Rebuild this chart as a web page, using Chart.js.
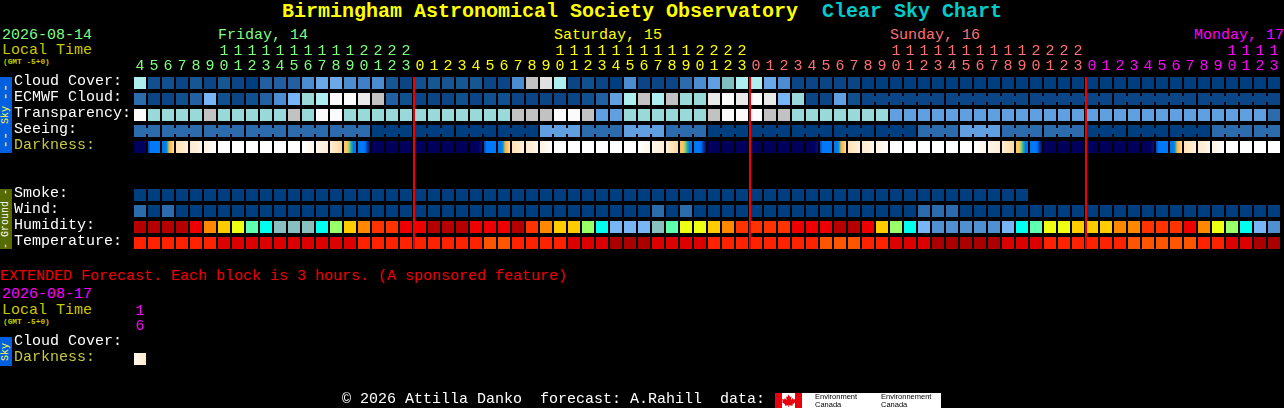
<!DOCTYPE html>
<html>
<head>
<meta charset="utf-8">
<script src="https://cdn.jsdelivr.net/npm/chart.js@4"></script>
<style>
html,body{margin:0;padding:0;background:#000;overflow:hidden}
#page{position:relative;width:1284px;height:408px;background:#000;font:15px/15px "Liberation Mono",monospace}
canvas{position:absolute;left:0}
.t{position:absolute;white-space:pre}
.title{font:bold 20px/20px "Liberation Mono",monospace;top:2px}
.gmt{font:bold 7.8px/8px "Liberation Mono",monospace;color:#c8c800;left:3px}
.side{position:absolute;left:0;width:12px}
.side span{position:absolute;left:6px;top:50%;transform:translate(-50%,-50%) rotate(-90deg);font:10px/10px "Liberation Mono",monospace;white-space:pre}
.side span.dash{font-size:14px;line-height:14px}
.logo{font:7.5px/7.5px "Liberation Sans",sans-serif;color:#000;white-space:pre}
</style>
</head>
<body>
<div id="page">
  <span class="t title" style="left:282px;color:#ffff00">Birmingham Astronomical Society Observatory</span>
  <span class="t title" style="left:822px;color:#00cccc">Clear Sky Chart</span>

  <span class="t" style="left:2px;top:28px;color:#80ff80">2026-08-14</span>
  <span class="t" style="left:218px;top:28px;color:#80ff80">Friday, 14</span>
  <span class="t" style="left:554px;top:28px;color:#ffff00">Saturday, 15</span>
  <span class="t" style="left:890px;top:28px;color:#ff7070">Sunday, 16</span>
  <span class="t" style="left:1194px;top:28px;color:#ff00ff">Monday, 17</span>
  <span class="t" style="left:2px;top:43px;color:#c8c800">Local Time</span>
  <span class="t gmt" style="top:58px">(GMT -5+0)</span>

  <div class="side" style="top:77px;height:76px;background:#0060e0">
    <span class="dash" style="top:15px;color:#ffff40">--</span>
    <span style="color:#ffff40">Sky</span>
    <span class="dash" style="top:63px;color:#ffff40">--</span>
  </div>
  <div class="side" style="top:189px;height:60px;background:#556b00"><span style="color:#fff">- Ground -</span></div>

  <canvas id="main" width="1284" height="260" style="top:0"></canvas>

  <span class="t" style="left:0;top:269px;color:#f00000">EXTENDED Forecast. Each block is 3 hours. (A sponsored feature)</span>
  <span class="t" style="left:2px;top:287px;color:#ff00ff">2026-08-17</span>
  <span class="t" style="left:2px;top:303px;color:#c8c800">Local Time</span>
  <span class="t gmt" style="top:318px">(GMT -5+0)</span>
  <div class="side" style="top:337px;height:29px;background:#0060e0"><span style="color:#ffff40">Sky</span></div>

  <canvas id="ext" width="1284" height="110" style="top:298px"></canvas>

  <span class="t" style="left:342px;top:392px;color:#fff">© 2026 Attilla Danko  forecast: A.Rahill  data:</span>
  <svg style="position:absolute;left:775px;top:393px" width="166" height="15">
    <rect width="166" height="15" fill="#fff"/>
    <rect width="7" height="15" fill="#e8000c"/><rect x="20" width="7" height="15" fill="#e8000c"/>
    <path d="M13.5 1.5l1.6 2.6 1.4-.6-.6 3.4 2-1.8.5 1.3 2.2-.3-.8 2.2 1 .6-3.4 2.6.4 1.2-3.6-.4V14h-.8v-1.7l-3.6.4.4-1.2-3.4-2.6 1-.6-.8-2.2 2.2.3.5-1.3 2 1.8-.6-3.4 1.4.6z" fill="#e8000c"/>
  </svg>
  <span class="t logo" style="left:815px;top:393px">Environment
Canada</span>
  <span class="t logo" style="left:881px;top:393px">Environnement
Canada</span>
</div>

<script>
/* ===== 資料 ===== */
const hours=[4,5,6,7,8,9,10,11,12,13,14,15,16,17,18,19,20,21,22,23,
  0,1,2,3,4,5,6,7,8,9,10,11,12,13,14,15,16,17,18,19,20,21,22,23,
  0,1,2,3,4,5,6,7,8,9,10,11,12,13,14,15,16,17,18,19,20,21,22,23,
  0,1,2,3,4,5,6,7,8,9,10,11,12,13];
const midnights=[20,44,68];
const rowNames=['Cloud Cover:','ECMWF Cloud:','Transparency:','Seeing:','Darkness:','','','Smoke:','Wind:','Humidity:','Temperature:'];
const extHours=[16];
const extRowNames=['Cloud Cover:','Darkness:'];

/* sky levels, see skyColors */
const cloudCover=[12,2,2,1,3,1,3,1,0,4,4,4,7,9,9,7,6,7,3,1,2,
  3,3,3,3,1,1,7,13,14,12,1,2,1,0,7,1,1,1,5,7,8,17,12,12,9,7,1,1,1,1,1,
  0,0,0,0,0,0,0,0,0,0,0,0,0,0,0,0,0,0,0,0,0,0,0,0,0,0,0,0,0,0];
const ecmwfCloud=[5,1,1,2,4,10,2,1,2,4,7,10,11,12,16,16,15,13,4,2,1,
  1,1,2,1,2,2,1,1,1,1,1,2,4,8,12,13,12,13,11,11,15,16,15,16,15,10,11,1,1,8,2,
  1,1,1,1,1,1,1,1,1,1,1,1,1,1,1,1,1,1,1,1,1,1,1,1,1,1,1,1,1,1];
const transparency=[16,11,11,11,11,13,11,11,11,11,11,13,11,16,16,11,11,11,11,11,11,
  11,11,11,11,11,11,13,13,13,16,16,13,8,8,11,11,11,11,11,11,13,16,16,16,13,13,11,11,11,11,11,
  11,11,8,8,8,8,8,8,8,8,8,8,8,8,8,8,8,8,8,8,8,8,8,8,8,8,8,8,8,5];
const seeing=[5,5,5,5,5,5,5,5,5,5,5,5,5,5,5,5,5,0,0,0,0,
  0,0,0,0,0,0,0,0,8,8,8,5,5,5,8,8,8,5,5,5,0,0,0,0,0,0,0,0,0,0,0,
  0,0,0,0,5,5,5,8,8,8,5,5,5,5,5,5,0,0,0,0,0,0,0,0,0,5,5,5,5,5];
const seeingJoins=[0,2,3,5,6,8,9,11,12,14,15,17,18,20,21,23,24,26,27,29,30,32,33,35,36,38,39,41,42,44,45,47,48,50,51,53,54,56,57,59,60,62,63,65,66,68,69,71,72,74,75,77,78,80];
const ecmwfJoins=[52,53,54,55,56,58,59,60,61,62,64,65,66,67,68,70,71,72,73,74,76,77,78,79,80];
const smoke=[0,0,0,0,0,0,0,0,0,0,0,0,0,0,0,0,0,0,0,0,0,0,0,0,0,0,0,0,0,0,0,0,
  0,0,0,0,0,0,0,0,0,0,0,0,0,0,0,0,0,0,0,0,0,0,0,0,0,0,0,0,0,0,0,0];
const wind=[5,0,5,0,0,0,0,0,0,0,0,0,0,0,0,0,0,0,0,0,0,
  0,0,0,0,0,0,0,0,0,0,0,0,0,0,0,0,5,0,5,0,0,0,0,0,0,0,0,0,0,0,0,
  0,0,0,0,5,5,5,0,0,0,0,0,0,0,0,0,0,0,0,0,0,0,0,0,0,0,0,0,0,0];
/* humidity levels, see humColors */
const humidity=[0,0,0,0,1,3,4,5,7,8,9,9,9,8,6,4,3,2,2,1,1,
  0,0,0,1,1,1,0,2,3,4,4,6,8,10,10,10,9,7,5,5,4,3,2,2,2,2,1,1,1,0,0,
  1,4,6,8,10,11,11,11,11,11,10,8,7,5,5,4,4,4,3,3,2,2,2,1,3,5,6,8,10,11];
/* temperature levels, see tempColors */
const temperature=[1,1,1,1,1,1,2,2,2,2,2,2,2,2,2,2,1,1,1,1,1,
  1,1,1,1,0,0,1,1,1,1,2,2,2,3,3,3,2,2,2,2,1,1,1,1,1,1,1,1,0,0,0,
  1,1,2,2,2,3,3,3,3,3,2,2,2,1,1,1,1,1,1,0,0,0,0,0,1,1,2,2,3,3];
/* darkness: left-to-right colour stops of each block */
const NT=['#00005c'],PRE=['#00005c','#00005c','#00005c','#001090'],BLU=['#0040b0','#0078f8','#0078f8','#0078f8','#0078f8','#0078f8'];
const DAWN=['#0078f0','#0078f0','#0090d8','#ffb040','#ffc860','#ffdc98'],C1=['#ffe2b4','#fff0dc'],C2=['#feeace','#fff6e8'],C3=['#fff4e4','#fffcf8'],W=['#ffffff'];
const E1=['#ffffff','#fff6ea'],E2=['#fff6e8','#ffeed6'],E3=['#ffedd0','#fdd8a6'],DUSK=['#ffc060','#ffc860','#a8d070','#20b0a0','#0078f0','#0078f0'],BLD=['#0078f8','#0078f8','#0078f8','#0070f0','#0030a0','#000a80'];
const darkness=[NT,BLU,DAWN,C1,C2,C3,W,W,W,W,W,W,E1,E2,E3,DUSK,BLD,NT,NT,NT,NT,NT,NT,NT,PRE,
  BLU,DAWN,C1,C2,C3,W,W,W,W,W,W,E1,E2,E3,DUSK,BLD,NT,NT,NT,NT,NT,NT,NT,PRE,
  BLU,DAWN,C1,C2,C3,W,W,W,W,W,W,E1,E2,E3,DUSK,BLD,NT,NT,NT,NT,NT,NT,NT,PRE,
  BLU,DAWN,C1,C2,C3,W,W,W,W];
const extDarkness=[['#fffaf2','#ffe8c8']];

/* ===== 樣式 ===== */
const skyColors=['#003f7f','#0b4585','#10508f','#165693','#2360a2','#2c6cac','#4080c8','#4c8cd0','#60a0e0','#6aa8e8','#77b5f7','#99d9d9','#aeeeee','#c2c2c2','#e0e0e0','#eaeaea','#fbfbfb','#80bfbf'];
const humColors=['#b60000','#ee0000','#ff3300','#ff8800','#ffcc00','#eeff11','#99ff66','#5fffb0','#00ffee','#88c0c0','#77b5f5','#5090d0'];
const tempColors=['#ff5500','#ff2200','#dd0000','#aa0000'];
const dayColors=['#80ff80','#ffff00','#ff7070','#ff00ff'];
const FONT={family:'"Liberation Mono",monospace',size:15,lineHeight:1};
const BAR={barThickness:12,grouped:false,inflateAmount:0,order:2};

/* ===== 工具 ===== */
const cells=(vals,row,half=0.375)=>vals.map((v,i)=>({x:i,y:[row-half,row+half]}));
const fill=(vals,pal)=>vals.map(v=>pal[v]);
function blocks(vals,pal,row){
  return {type:'bar',data:cells(vals,row),backgroundColor:fill(vals,pal),...BAR};
}
function joins(idx,vals,pal,row){
  return {type:'bar',data:idx.map(i=>({x:i+0.5,y:[row-0.1875,row+0.1875]})),
    backgroundColor:idx.map(i=>pal[vals[i]]),...BAR,barThickness:2};
}
function gradBlocks(vals,row){
  return {type:'bar',data:cells(vals,row),...BAR,
    backgroundColor:ctx=>{
      const st=vals[ctx.dataIndex];if(!st)return '#000';
      if(st.length===1)return st[0];
      const px=ctx.chart.scales.x.getPixelForValue(ctx.dataIndex);
      if(!isFinite(px))return st[0];
      const g=ctx.chart.ctx.createLinearGradient(px-6,0,px+6,0);
      st.forEach((c,k)=>g.addColorStop(k/(st.length-1),c));
      return g;
    }};
}
function scales(n,names,rowOffset,labelOf,colorOf,maxRow,xH){
  return {
    x:{type:'linear',position:'top',offset:false,min:-0.5,max:n-0.5,grid:{display:false,drawTicks:false},border:{display:false},
      afterBuildTicks:s=>{s.ticks=Array.from({length:n},(_,i)=>({value:i}));},
      afterFit:s=>{s.height=xH;},
      ticks:{autoSkip:false,maxRotation:0,font:FONT,padding:1,color:c=>colorOf(c.index),callback:(v,i)=>labelOf(i)}},
    y:{type:'linear',reverse:true,min:-0.5,max:maxRow,grid:{display:false,drawTicks:false},border:{display:false},
      afterBuildTicks:s=>{s.ticks=names.map((_,i)=>({value:i+rowOffset}));},
      afterFit:s=>{s.width=119;},
      ticks:{autoSkip:false,crossAlign:'far',padding:0,font:FONT,
        color:c=>names[c.index]==='Darkness:'?'#c8c83c':'#ffffff',
        callback:(v,i)=>names[i]}}
  };
}
const baseOpts={responsive:false,animation:false,devicePixelRatio:1,
  plugins:{legend:{display:false},title:{display:false},tooltip:{enabled:false}}};
const splitHour=h=>h<10?['',String(h)]:[String(Math.floor(h/10)),String(h%10)];

/* ===== 主圖 ===== */
const dayOf=i=>i<midnights[0]?0:i<midnights[1]?1:i<midnights[2]?2:3;
const redLines=midnights.map(m=>({type:'line',data:[{x:m-3/7,y:-0.375},{x:m-3/7,y:10.375}],
  borderColor:'#f00000',borderWidth:2,pointRadius:0,order:1}));
new Chart(document.getElementById('main'),{
  data:{datasets:[
    blocks(cloudCover,skyColors,0),
    blocks(ecmwfCloud,skyColors,1),joins(ecmwfJoins,ecmwfCloud,skyColors,1),
    blocks(transparency,skyColors,2),
    blocks(seeing,skyColors,3),joins(seeingJoins,seeing,skyColors,3),
    gradBlocks(darkness,4),
    blocks(smoke,skyColors,7),
    blocks(wind,skyColors,8),
    blocks(humidity,humColors,9),
    blocks(temperature,tempColors,10),
    ...redLines
  ]},
  options:{...baseOpts,
    layout:{padding:{left:14,right:3,top:43,bottom:9}},
    scales:scales(hours.length,rowNames,-0.125,i=>splitHour(hours[i]),i=>dayColors[dayOf(i)],10.5,32)}
});

/* ===== 延伸預報 ===== */
new Chart(document.getElementById('ext'),{
  data:{datasets:[gradBlocks(extDarkness,1)]},
  options:{...baseOpts,
    layout:{padding:{left:14,right:3,top:5,bottom:41}},
    scales:scales(hours.length,extRowNames,-0.125,i=>i<extHours.length?splitHour(extHours[i]):'',()=>'#ff00ff',1.5,32)}
});
</script>
</body>
</html>
